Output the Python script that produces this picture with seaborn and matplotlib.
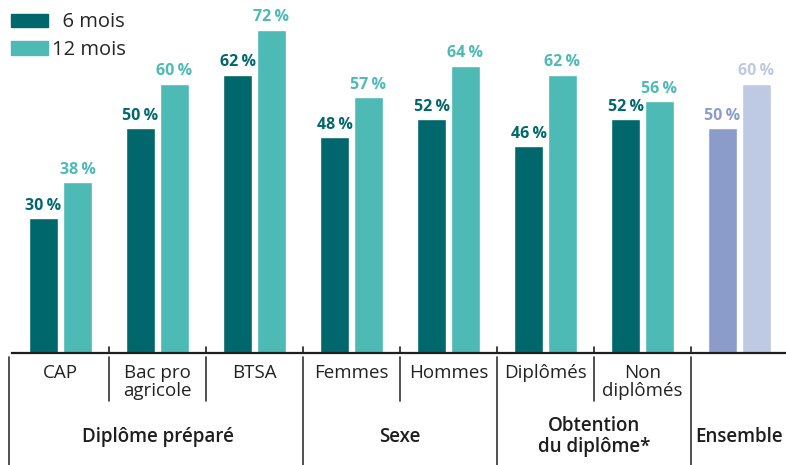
import pandas as pd
import matplotlib.pyplot as plt
import matplotlib.patches as mpatches
import seaborn as sns

sns.set_style("white")
plt.rcParams['font.family'] = ['Open Sans', 'DejaVu Sans']

# Données
categories = ["CAP", "Bac pro\nagricole", "BTSA", "Femmes", "Hommes",
              "Diplômés", "Non\ndiplômés", ""]
six_mois = [30, 50, 62, 48, 52, 46, 52, 50]
douze_mois = [38, 60, 72, 57, 64, 62, 56, 60]
groupes = ["Diplôme préparé", "Sexe", "Obtention\ndu diplôme*", "Ensemble"]
groupe_centres = [1, 3.5, 5.5, 7]

df = pd.DataFrame({
    "cat": categories * 2,
    "val": six_mois + douze_mois,
    "serie": ["6 mois"] * 8 + ["12 mois"] * 8,
})

fonce, clair = "#00686d", "#4dbab5"
fonce_ens, clair_ens = "#8b9ccb", "#bec9e3"

fig = plt.figure(figsize=(7.86, 4.65), dpi=100)
ax = fig.add_axes([12 / 786, 1 - 353 / 465, 776 / 786, 353 / 465])

sns.barplot(data=df, x="cat", y="val", hue="serie", order=categories,
            palette=[fonce, clair], width=0.7, gap=0.17, legend=False,
            ax=ax, saturation=1)

# Couleurs et étiquettes
for cont, valeurs, c, c_ens in zip(ax.containers, [six_mois, douze_mois],
                                   [fonce, clair], [fonce_ens, clair_ens]):
    cont.patches[-1].set_facecolor(c_ens)
    textes = ax.bar_label(cont, labels=[f"{v}\u2009%" for v in valeurs],
                          padding=3, fontsize=11.5, fontweight="bold")
    for i, t in enumerate(textes):
        t.set_color(c_ens if i == len(valeurs) - 1 else c)

ax.set_xlim(-0.5, 7.5)
ax.set_ylim(0, 78.6)
ax.set_xlabel("")
ax.set_ylabel("")
ax.set_yticks([])
ax.set_xticks(range(len(categories)))
ax.set_xticklabels(categories, fontsize=13.5, color="#222222", linespacing=1.0)
ax.tick_params(axis="x", length=0, pad=8)
sns.despine(ax=ax, left=True)
ax.spines["bottom"].set_linewidth(1.6)
ax.spines["bottom"].set_color("#1e1e1e")

# Séparateurs
trans = ax.get_xaxis_transform()
for x in [0.5, 1.5, 2.5, 3.5, 4.5, 5.5, 6.5]:
    ax.plot([x, x], [0, 0.018], transform=trans, color="#1e1e1e", lw=1.2, clip_on=False)
for x in [0.5, 1.5, 3.5, 5.5]:
    ax.plot([x, x], [-0.012, -0.135], transform=trans, color="#333333", lw=1.2, clip_on=False)
for x in [-0.53, 2.5, 4.5, 6.5]:
    ax.plot([x, x], [-0.012, -0.33], transform=trans, color="#333333", lw=1.2, clip_on=False)

for g, x in zip(groupes, groupe_centres):
    ax.text(x, -0.237, g, transform=trans, ha="center", va="center",
            fontsize=13.5, fontweight="semibold", color="#1e1e1e", linespacing=1.05)

# Légende
handles = [mpatches.Patch(color=fonce, label="  6 mois"),
           mpatches.Patch(color=clair, label="12 mois")]
fig.legend(handles=handles, loc="upper left", bbox_to_anchor=(-0.007, 1.008),
           frameon=False, fontsize=14.5, handlelength=1.85, handleheight=0.65,
           handletextpad=0.2, labelspacing=0.38, borderaxespad=0.4)

fig.savefig("out.png", dpi=100)
